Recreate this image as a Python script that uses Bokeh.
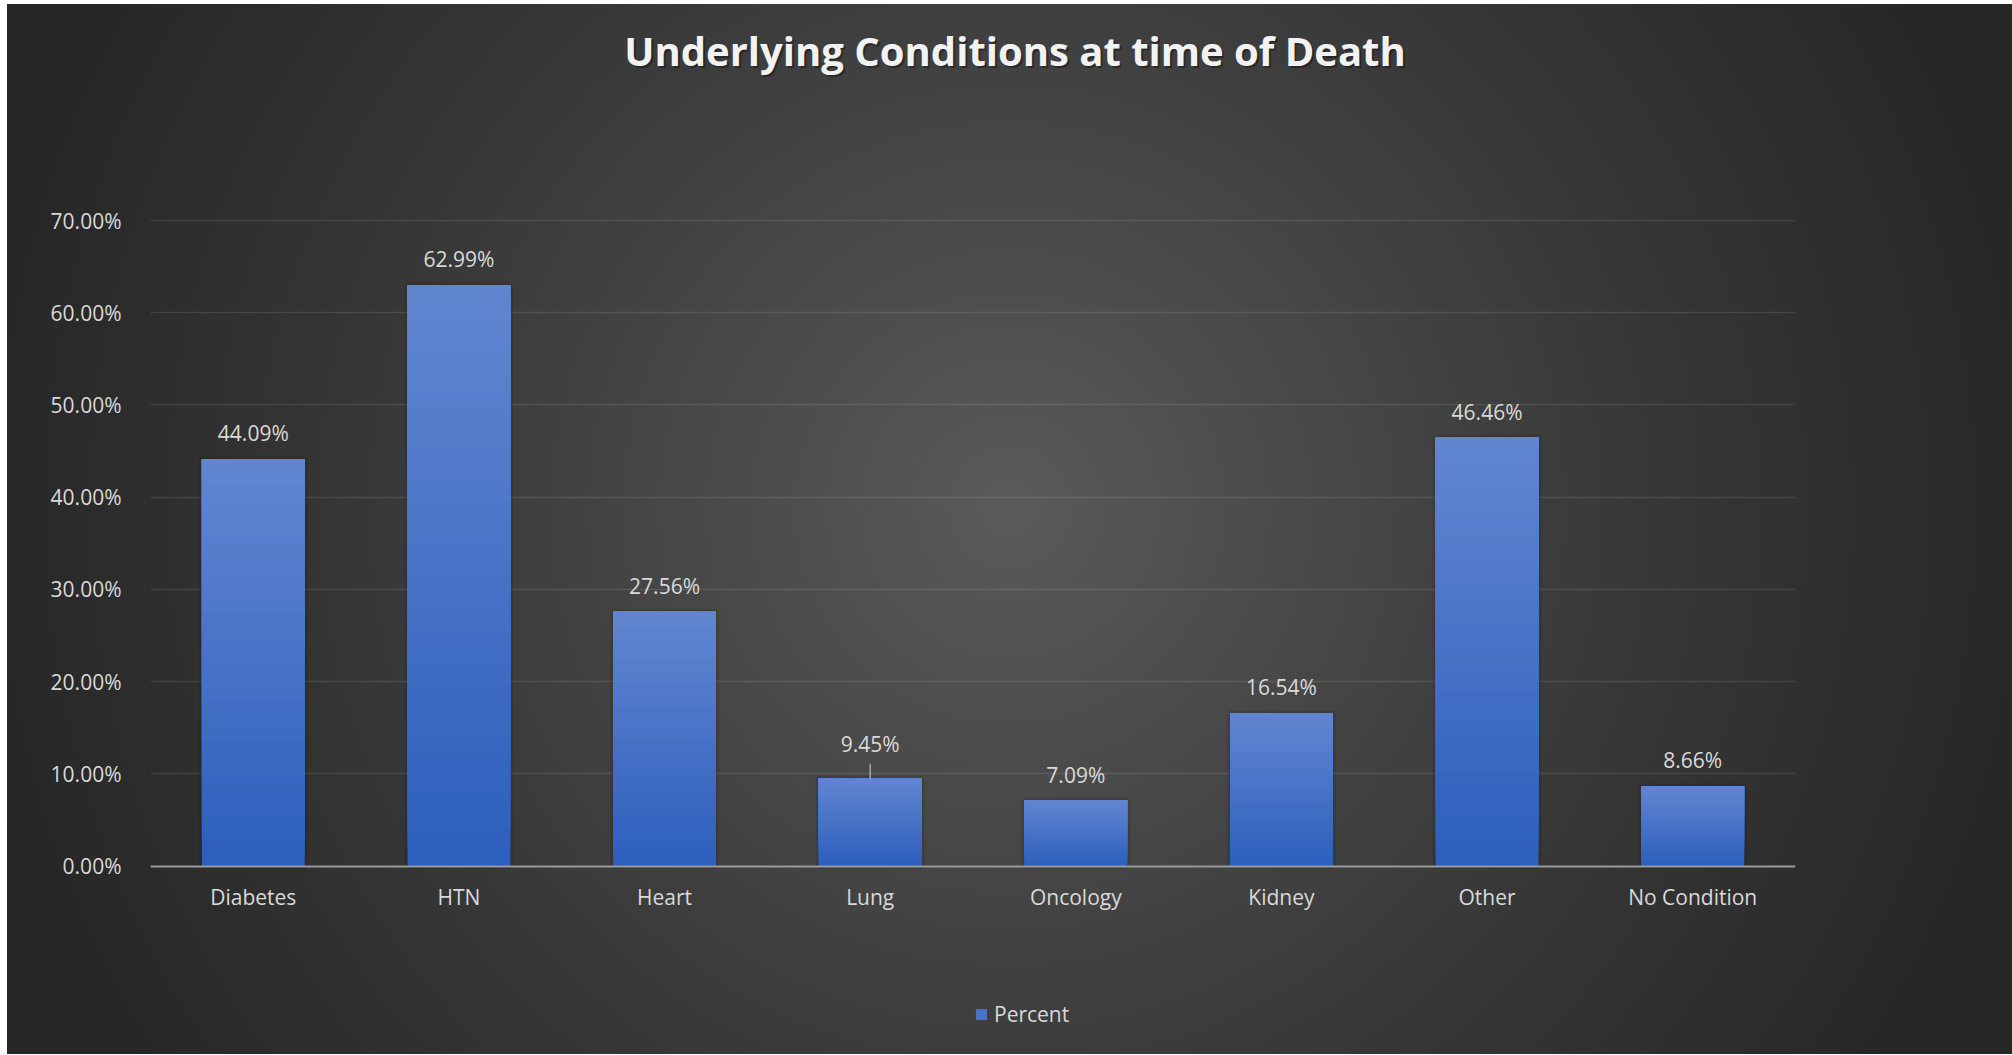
from bokeh.plotting import figure
from bokeh.models import (ColumnDataSource, Range1d, FactorRange, PrintfTickFormatter,
                          FixedTicker, LabelSet, Label, Legend, LegendItem)
from bokeh.core.properties import value
from bokeh.embed import file_html
from bokeh.resources import INLINE

# ---- data ----
categories = ["Diabetes", "HTN", "Heart", "Lung", "Oncology", "Kidney", "Other", "No Condition"]
percent = [44.09, 62.99, 27.56, 9.45, 7.09, 16.54, 46.46, 8.66]
y_ticks = [0, 10, 20, 30, 40, 50, 60, 70]
series_name = "Percent"
title_text = "Underlying Conditions at time of Death"

# ---- layout ----
W, H = 2005, 1050
ML, MR = 143, 217
PLOT_TOP, PLOT_BOTTOM = 216, 861.5      # pixel rows of 70% and 0% lines
FONT = "Open Sans"
LABEL_COLOR = "#d9d9d9"
upp = 70.0 / (PLOT_BOTTOM - PLOT_TOP)    # data units per pixel
y_lo = -(H - PLOT_BOTTOM) * upp
y_hi = 70 + PLOT_TOP * upp

p = figure(width=W, height=H,
           x_range=FactorRange(*categories, range_padding=0),
           y_range=Range1d(y_lo, y_hi),
           output_backend="svg", toolbar_location=None,
           min_border_left=ML, min_border_right=MR,
           min_border_top=0, min_border_bottom=0)

p.styles = {"background": "radial-gradient(circle 1050px at 50% 48%, #5a5a5a 0%, #484848 30%, #353535 65%, #262626 100%)",
            "margin-left": "7px", "margin-top": "4px"}
p.border_fill_color = None
p.background_fill_color = None
p.outline_line_color = None

src = ColumnDataSource(dict(cat=categories, val=percent,
                            label=["%.2f%%" % v for v in percent],
                            dy=[27 if c == "Lung" else 18 for c in categories]))

# soft shadow around bars
p.vbar(x="cat", top="val", width=0.5, source=src, fill_color=None,
       line_color="#000000", line_alpha=0.1, line_width=6)

# gradient bars (bottom dark -> top light), built as stacked overlapping slices
top_rgb = (0x62, 0x87, 0xd1)
bot_rgb = (0x2d, 0x5f, 0xbd)
N = 32
legend_r = None
for k in range(N):
    f = k / N
    col = "#%02x%02x%02x" % tuple(int(round(b + (t - b) * f)) for t, b in zip(top_rgb, bot_rgb))
    bottoms = [v * f for v in percent]
    r = p.vbar(x=categories, top=percent, bottom=bottoms, width=0.5,
               fill_color=col, line_color=None)
    if k == N // 2:
        legend_r = r

# leader line for the moved Lung label
li = categories.index("Lung")
p.segment(x0=[categories[li]], y0=[percent[li]], x1=[categories[li]],
          y1=[percent[li] + 15 * upp], line_color="#a6a6a6", line_width=1.5)

labels = LabelSet(x="cat", y="val", text="label", y_offset="dy", source=src,
                  text_align="center", text_baseline="alphabetic",
                  text_font=value(FONT), text_font_size="21px", text_color=LABEL_COLOR)
p.add_layout(labels)

# axes
p.xaxis.fixed_location = 0
p.xaxis.axis_line_color = "#9a9a9a"
p.xaxis.axis_line_width = 2
p.xaxis.major_tick_line_color = None
p.xaxis.minor_tick_line_color = None
p.xaxis.major_label_text_color = LABEL_COLOR
p.xaxis.major_label_text_font = FONT
p.xaxis.major_label_text_font_size = "21px"
p.xaxis.major_label_standoff = 11

p.yaxis.axis_line_color = None
p.yaxis.major_tick_line_color = None
p.yaxis.minor_tick_line_color = None
p.yaxis.ticker = FixedTicker(ticks=y_ticks)
p.yaxis.formatter = PrintfTickFormatter(format="%.2f%%")
p.yaxis.major_label_text_color = LABEL_COLOR
p.yaxis.major_label_text_font = FONT
p.yaxis.major_label_text_font_size = "21px"
p.yaxis.major_label_standoff = 23

p.xgrid.grid_line_color = None
p.ygrid.ticker = FixedTicker(ticks=y_ticks[1:])
p.ygrid.grid_line_color = "#ffffff"
p.ygrid.grid_line_alpha = 0.1
p.ygrid.grid_line_width = 1.5

# title (centred on the whole chart, near the top)
title_cx = W / 2 - ML + 5
title_y = H - 46
p.add_layout(Label(x=title_cx + 2, y=title_y - 2, x_units="screen", y_units="screen",
                   text=title_text, text_font=FONT, text_font_style="bold",
                   text_font_size="40px", text_color="#000000", text_alpha=0.35,
                   text_align="center", text_baseline="alphabetic"))
p.add_layout(Label(x=title_cx, y=title_y, x_units="screen", y_units="screen",
                   text=title_text, text_font=FONT, text_font_style="bold",
                   text_font_size="40px", text_color="#f2f2f2",
                   text_align="center", text_baseline="alphabetic"))

legend = Legend(items=[LegendItem(label=series_name, renderers=[legend_r])],
                location=(824, 26), orientation="horizontal",
                background_fill_alpha=0, border_line_color=None,
                label_text_color=LABEL_COLOR, label_text_font=FONT,
                label_text_font_size="21px", glyph_width=14, glyph_height=14,
                label_standoff=6, padding=0, margin=0)
p.add_layout(legend, "center")

open("out.html", "w").write(file_html(p, INLINE))
